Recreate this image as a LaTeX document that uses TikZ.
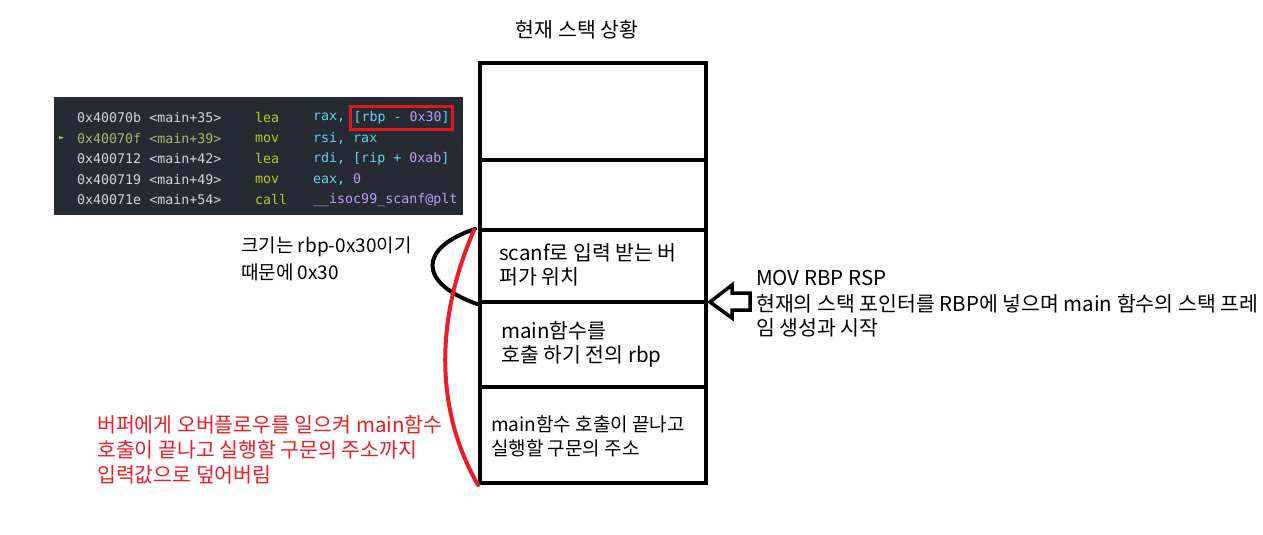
\documentclass[tikz,border=0pt]{standalone}
\usepackage{fontspec}
\newfontfamily\kr{Noto Sans CJK KR}
\newfontfamily\mono{DejaVu Sans Mono}
\definecolor{codebg}{HTML}{262A33}
\definecolor{caddr}{HTML}{D6D6D6}
\definecolor{ccur}{HTML}{A3BC72}
\definecolor{cmn}{HTML}{B8CC1A}
\definecolor{creg}{HTML}{5FD3F3}
\definecolor{cnum}{HTML}{BE9CF8}
\definecolor{pred}{HTML}{EE1C24}
\definecolor{boxred}{HTML}{E8141C}
\begin{document}
\begin{tikzpicture}[x=1pt,y=-1pt,
  cell/.style={draw=black, line width=4pt, minimum width=226pt, inner sep=0pt},
  lbl/.style={font=\kr\fontsize{20.5}{24}\selectfont, anchor=west, inner sep=0pt, align=left},
  lbls/.style={lbl, font=\kr\fontsize{19}{23}\selectfont},
  code/.style={font=\mono\fontsize{13.3}{16}\selectfont, anchor=west, inner sep=0pt},
  curve/.style={line width=4pt, line cap=round}
]
\useasboundingbox[fill=white] (0,0) rectangle (1263,535);

% title
\node[lbl, anchor=center] (title) at (577,30) {현재 스택 상황};

% stack cells
\node[cell, minimum height=97pt] (c1) at (593,111.5) {};
\node[cell, minimum height=70pt] (c2) at (593,195) {};
\node[cell, minimum height=72pt] (c3) at (593,266) {};
\node[cell, minimum height=85pt] (c4) at (593,344.5) {};
\node[cell, minimum height=96pt] (c5) at (593,435) {};

\node[lbl] (t3a) at (499,253) {scanf로 입력 받는 버};
\node[lbl] (t3b) at (499,277) {퍼가 위치};
\node[lbl] (t4a) at (501,331) {main함수를};
\node[lbl] (t4b) at (501,356) {호출 하기 전의 rbp};
\node[lbls] (t5a) at (491,424) {main함수 호출이 끝나고};
\node[lbls] (t5b) at (491,448) {실행할 구문의 주소};

% code panel
\node[fill=codebg, minimum width=409pt, minimum height=118pt, inner sep=0pt] (panel) at (258.5,156) {};
\node[code, text=caddr] (a1) at (77,118) {0x40070b <main+35>};
\node[code, text=ccur] (a2) at (77,138.5) {0x40070f <main+39>};
\node[code, text=caddr] (a3) at (77,159) {0x400712 <main+42>};
\node[code, text=caddr] (a4) at (77,179.5) {0x400719 <main+49>};
\node[code, text=caddr] (a5) at (77,200) {0x40071e <main+54>};
\node[code, text=ccur, font=\mono\fontsize{9}{10}\selectfont] (cur) at (59,138.5) {►};
\node[code, text=cmn] (m1) at (255,118) {lea};
\node[code, text=cmn] (m2) at (255,138.5) {mov};
\node[code, text=cmn] (m3) at (255,159) {lea};
\node[code, text=cmn] (m4) at (255,179.5) {mov};
\node[code, text=cmn] (m5) at (255,200) {call};
\node[code, text=creg] (o1) at (313,118) {rax,};
\node[code, text=creg, draw=boxred, line width=3pt, inner xsep=3pt, minimum height=23pt] (o1b) at (349,118) {[rbp - \textcolor{cnum}{0x30}]};
\node[code, text=creg] (o2) at (313,138.5) {rsi, rax};
\node[code, text=creg] (o3) at (313,159) {rdi, [rip + \textcolor{cnum}{0xab}]};
\node[code, text=creg] (o4) at (313,179.5) {eax, \textcolor{cnum}{0}};
\node[code, text=cnum] (o5) at (313,200) {\_\_isoc99\_scanf@plt};

% size note
\node[lbls] (size1) at (241,247) {크기는 rbp-0x30이기};
\node[lbls] (size2) at (241,272) {때문에 0x30};
\draw[curve] ([xshift=-3pt,yshift=-1pt]c3.north west) .. controls (418,248) and (418,283) .. ([xshift=-1pt]c3.south west);

% red overflow curve
\draw[curve, draw=pred] ([xshift=-4pt,yshift=-2pt]c3.north west) .. controls (435,320) and (435,410) .. (c5.south west);
\node[lbl, text=pred] (r1) at (97,425) {버퍼에게 오버플로우를 일으켜 main함수};
\node[lbl, text=pred] (r2) at (97,450) {호출이 끝나고 실행할 구문의 주소까지};
\node[lbl, text=pred] (r3) at (97,475) {입력값으로 덮어버림};

% hollow arrow
\coordinate (tip) at (710,302);
\draw[line width=3.5pt, line join=miter] (tip) -- (732,285) -- (732,293) -- (750,293) -- (750,310) -- (732,310) -- (732,318) -- cycle;
\node[lbl] (m1t) at (756,278) {MOV RBP RSP};
\node[lbl] (m2t) at (756,304) {현재의 스택 포인터를 RBP에 넣으며 main 함수의 스택 프레};
\node[lbl] (m3t) at (756,328) {임 생성과 시작};
\end{tikzpicture}
\end{document}
